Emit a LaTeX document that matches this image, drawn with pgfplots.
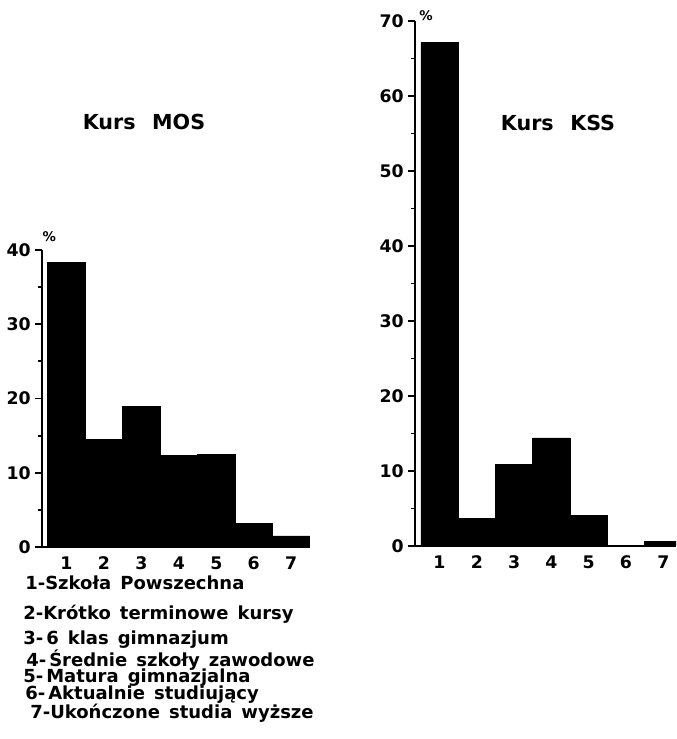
\documentclass[border=0pt]{standalone}
\usepackage{pgfplots}
\pgfplotsset{compat=1.18}
\usepackage{fontspec}
\setmainfont{DejaVu Sans}
\pgfplotstableread{
x y
1 38.3
2 14.5
3 18.9
4 12.3
5 12.5
6 3.2
7 1.5
}\mos
\pgfplotstableread{
x y
1 67.1
2 3.7
3 10.9
4 14.4
5 4.1
6 0.0
7 0.6
}\kss
\pgfplotsset{
  histo/.style={
    scale only axis,
    anchor=origin,
    axis x line=bottom, axis y line=left,
    axis line style={-, line width=2pt},
    ymin=0,
    xtick={1,...,7},
    major x tick style={draw=none},
    tick align=outside,
    major tick length=5pt,
    minor tick length=3pt,
    tick style={line width=1.4pt, black},
    /pgf/number format/assume math mode=true,
    tick label style={font=\fontsize{13}{15}\selectfont\bfseries},
    xticklabel style={yshift=1.5pt},
    clip=true,
  }
}
\newcommand\legfont{\fontsize{13.5}{15}\selectfont\bfseries\spaceskip=0.5em\relax}
\begin{document}
\begin{tikzpicture}
\path[use as bounding box] (0,0) rectangle (507pt,554.25pt);
\begin{axis}[histo,
  at={(31.5pt,144pt)}, width=201pt, height=222.75pt,
  xmin=0.35, xmax=7.5, ymax=40,
  ytick={0,10,20,30,40}, minor ytick={5,15,25,35}]
\addplot[ybar, bar width=1, fill=black, draw=black] table[x=x,y=y]{\mos};
\end{axis}
\begin{axis}[histo,
  at={(311.25pt,144.75pt)}, width=195.75pt, height=393.75pt,
  xmin=0.343, xmax=7.34, ymax=70,
  ytick={0,10,...,70}, minor ytick={5,15,...,65}]
\addplot[ybar, bar width=1, fill=black, draw=black] table[x=x,y=y]{\kss};
\end{axis}
\node[font=\fontsize{10}{12}\selectfont\bfseries] at (37pt,376.5pt) {\%};
\node[font=\fontsize{10}{12}\selectfont\bfseries] at (319.5pt,542.25pt) {\%};
\node[font=\fontsize{15.5}{18}\selectfont\bfseries] at (108pt,462.75pt) {Kurs\hspace{0.8em}MOS};
\node[font=\fontsize{15.5}{18}\selectfont\bfseries] at (418.5pt,462pt) {Kurs\hspace{0.8em}KSS};
\begin{scope}[every node/.style={anchor=base west, inner sep=0pt, font=\legfont}]
\node at (18.75pt,111.75pt) {1-Szkoła Powszechna};
\node at (17.25pt,89.25pt) {2-Krótko terminowe kursy};
\node at (17.25pt,70.5pt) {3-\,6 klas gimnazjum};
\node at (19.5pt,54pt) {4-\,Średnie szkoły zawodowe};
\node at (17.25pt,42pt) {5-\,Matura gimnazjalna};
\node at (18.75pt,29.25pt) {6-\,Aktualnie studiujący};
\node at (22.5pt,15.75pt) {7-Ukończone studia wyższe};
\end{scope}
\end{tikzpicture}
\end{document}
